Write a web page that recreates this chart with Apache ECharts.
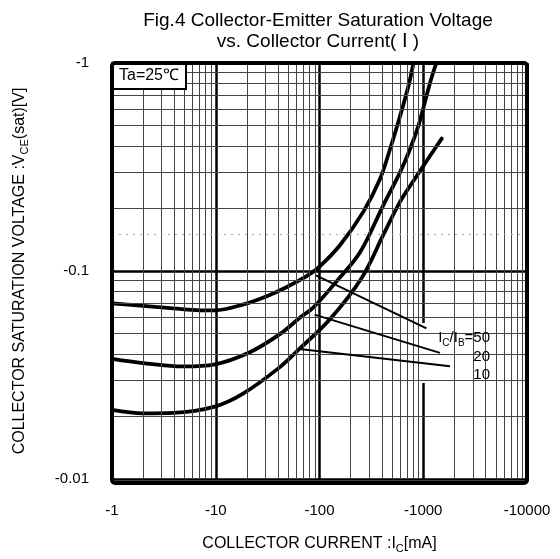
<!DOCTYPE html>
<html>
<head>
<meta charset="utf-8">
<script src="https://cdn.jsdelivr.net/npm/echarts@6/dist/echarts.min.js"></script>
<style>
  html, body { margin: 0; padding: 0; background: #fff; }
  #main { width: 560px; height: 559px; }
</style>
</head>
<body>
<div id="main"></div>
<script>
// collector current magnitude (mA) and Vce(sat) magnitude (V)
const iC50 = [1, 2, 3.9, 7, 9.8, 18.5, 31, 48, 75, 100, 158, 264, 383, 478, 597, 718, 805];
const vce50 = [0.0699, 0.0679, 0.0661, 0.0647, 0.0647, 0.0691, 0.0757, 0.0836, 0.0944, 0.105, 0.1334, 0.1924, 0.277, 0.385, 0.555, 0.771, 1.0];

const iC20 = [1, 2, 4.9, 9.8, 21.3, 41.5, 65, 87, 151, 246, 412, 597, 745, 896, 1000, 1160, 1335];
const vce20 = [0.0378, 0.0361, 0.0348, 0.0356, 0.0407, 0.0497, 0.0598, 0.0667, 0.0909, 0.123, 0.207, 0.298, 0.385, 0.497, 0.605, 0.8, 1.0];

const iC10 = [1, 2, 3.9, 9.8, 18.5, 41.5, 64, 126, 255, 412, 597, 865, 1160, 1506];
const vce10 = [0.0215, 0.0207, 0.0208, 0.0223, 0.0258, 0.0345, 0.0422, 0.0586, 0.0926, 0.149, 0.215, 0.286, 0.357, 0.433];

// leader lines from each curve to its ratio label: [current, voltage] pairs
const leader50 = [[92.5, 0.0952], [1074, 0.053]];
const leader20 = [[89.5, 0.0617], [1450, 0.0404]];
const leader10 = [[64.2, 0.0422], [1811, 0.0348]];

// axis ranges and grid
const xDecades = [1, 10, 100, 1000];
const yDecades = [0.01, 0.1];
const gridSteps = [2, 3, 4, 5, 6, 7, 8, 9];
const yHalfLine = [0.15];

const titleLines = ['Fig.4 Collector-Emitter Saturation Voltage', 'vs. Collector Current( \u2160 )'];
const ratioLabels = ['{m|I}{s|C}{m|/I}{s|B}{m|=50}', '{m|20}', '{m|10}'];
const tempLabel = 'Ta=25\u2103';

const FONT = '"Liberation Sans", Arial, Helvetica, sans-serif';
const grid = { left: 112, top: 63, width: 415, height: 420 };

// rich styles for subscripts: m = main text, s = subscript
const labelRich = {
  m: { fontSize: 15, lineHeight: 20, fontFamily: FONT, color: '#000' },
  s: { fontSize: 10, lineHeight: 8, verticalAlign: 'bottom', fontFamily: FONT, color: '#000' }
};
const nameRich = {
  m: { fontSize: 16, lineHeight: 20, fontFamily: FONT, color: '#000' },
  s: { fontSize: 11, lineHeight: 8, verticalAlign: 'bottom', fontFamily: FONT, color: '#000' }
};

function pairs(xs, ys) {
  return xs.map(function (x, i) { return [x, ys[i]]; });
}

function minorLines(decades, key) {
  let out = [];
  decades.forEach(function (d) {
    gridSteps.forEach(function (m) {
      let o = {};
      o[key] = +(d * m).toPrecision(6);
      out.push(o);
    });
  });
  return out;
}

function negLabel(v) {
  return '-' + String(+(+v).toPrecision(6));
}

function curve(name, data) {
  return {
    name: name,
    type: 'line',
    data: data,
    smooth: 0.35,
    showSymbol: false,
    symbol: 'none',
    clip: true,
    z: 3,
    lineStyle: { color: '#000', width: 3.8, cap: 'round' }
  };
}

function leader(data) {
  return {
    type: 'line',
    data: data,
    showSymbol: false,
    symbol: 'none',
    z: 5,
    lineStyle: { color: '#000', width: 2 }
  };
}

let chart = echarts.init(document.getElementById('main'));

let option = {
  animation: false,
  backgroundColor: '#fff',
  grid: { left: grid.left, top: grid.top, width: grid.width, height: grid.height, show: false },
  xAxis: {
    type: 'log',
    logBase: 10,
    min: 1,
    max: 10000,
    axisLine: { show: false },
    axisTick: { show: false },
    splitLine: { show: true, lineStyle: { color: '#000', width: 2.5 } },
    axisLabel: {
      formatter: negLabel, fontSize: 15, color: '#000', fontFamily: FONT, margin: 24,
      showMinLabel: true, showMaxLabel: true
    },
    name: '{m|COLLECTOR CURRENT :I}{s|C}{m|[mA]}',
    nameLocation: 'middle',
    nameGap: 55,
    nameTextStyle: { rich: nameRich }
  },
  yAxis: {
    type: 'log',
    logBase: 10,
    min: 0.01,
    max: 1,
    axisLine: { show: false },
    axisTick: { show: false },
    splitLine: { show: true, lineStyle: { color: '#000', width: 2.5 } },
    axisLabel: {
      formatter: negLabel, fontSize: 15, color: '#000', fontFamily: FONT, margin: 23,
      showMinLabel: true, showMaxLabel: true
    },
    name: '{m|COLLECTOR SATURATION VOLTAGE :V}{s|CE}{m|(sat)[V]}',
    nameLocation: 'middle',
    nameRotate: 90,
    nameGap: 82,
    nameTextStyle: { rich: nameRich }
  },
  series: [
    {
      type: 'line',
      data: [],
      z: 1,
      silent: true,
      markLine: {
        silent: true,
        symbol: ['none', 'none'],
        animation: false,
        label: { show: false },
        lineStyle: { color: '#444', width: 1, type: 'solid' },
        data: minorLines(xDecades, 'xAxis').concat(minorLines(yDecades, 'yAxis'))
      }
    },
    {
      type: 'line',
      data: [],
      z: 1,
      silent: true,
      markLine: {
        silent: true,
        symbol: ['none', 'none'],
        animation: false,
        label: { show: false },
        lineStyle: { color: '#aaa', width: 1, type: [2, 5] },
        data: yHalfLine.map(function (v) { return { yAxis: v }; })
      }
    },
    curve('IC/IB=50', pairs(iC50, vce50)),
    curve('IC/IB=20', pairs(iC20, vce20)),
    curve('IC/IB=10', pairs(iC10, vce10)),
    leader(leader50),
    leader(leader20),
    leader(leader10)
  ],
  graphic: [
    {
      type: 'text', z: 10, x: 318, y: 21,
      style: { text: titleLines[0], fill: '#000', font: '19px ' + FONT, align: 'center', verticalAlign: 'middle', textAlign: 'center', textVerticalAlign: 'middle' }
    },
    {
      type: 'text', z: 10, x: 318, y: 42,
      style: { text: titleLines[1], fill: '#000', font: '19px ' + FONT, align: 'center', verticalAlign: 'middle', textAlign: 'center', textVerticalAlign: 'middle' }
    },
    {
      type: 'rect', z: 4,
      shape: { x: 412, y: 323, width: 82, height: 60 },
      style: { fill: '#fff', stroke: null }
    },
    {
      type: 'text', z: 6, x: 490, y: 338,
      style: { text: ratioLabels[0], rich: labelRich, align: 'right', verticalAlign: 'middle', textAlign: 'right', textVerticalAlign: 'middle' }
    },
    {
      type: 'text', z: 6, x: 490, y: 356.5,
      style: { text: ratioLabels[1], rich: labelRich, align: 'right', verticalAlign: 'middle', textAlign: 'right', textVerticalAlign: 'middle' }
    },
    {
      type: 'text', z: 6, x: 490, y: 375,
      style: { text: ratioLabels[2], rich: labelRich, align: 'right', verticalAlign: 'middle', textAlign: 'right', textVerticalAlign: 'middle' }
    },
    {
      type: 'rect', z: 8,
      shape: { x: 112, y: 63, width: 74, height: 26 },
      style: { fill: '#fff', stroke: '#000', lineWidth: 2 }
    },
    {
      type: 'text', z: 9, x: 149, y: 76,
      style: { text: tempLabel, fill: '#000', font: '16px ' + FONT, align: 'center', verticalAlign: 'middle', textAlign: 'center', textVerticalAlign: 'middle' }
    },
    {
      type: 'rect', z: 12,
      shape: { x: grid.left, y: grid.top, width: grid.width, height: grid.height, r: 3 },
      style: { fill: null, stroke: '#000', lineWidth: 4 }
    }
  ]
};

chart.setOption(option);
</script>
</body>
</html>
